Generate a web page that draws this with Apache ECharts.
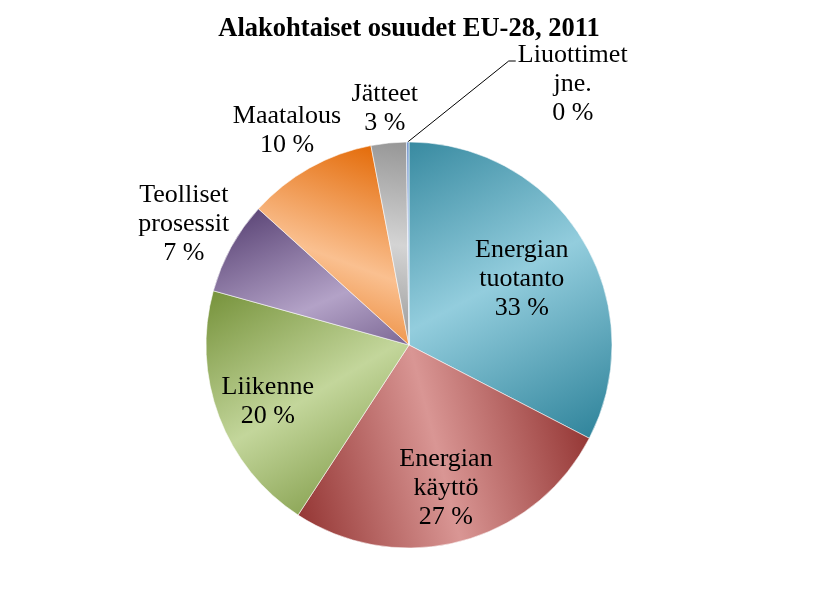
<!DOCTYPE html>
<html>
<head>
<meta charset="utf-8">
<script src="https://cdn.jsdelivr.net/npm/echarts@6/dist/echarts.min.js"></script>
<style>
  html, body { margin: 0; padding: 0; background: #fff; }
  #chart { width: 818px; height: 604px; }
</style>
</head>
<body>
<div id="chart"></div>
<script>
// sektorit ja osuudet (luettu kuvasta)
const categories = ['Energian\ntuotanto', 'Energian\nkäyttö', 'Liikenne', 'Teolliset\nprosessit', 'Maatalous', 'Jätteet', 'Liuottimet\njne.'];
const values = [32.6, 26.6, 20.1, 7.4, 10.3, 2.8, 0.2];
const darkColors = ['#31859c', '#953735', '#77933c', '#5f497a', '#e46c0a', '#969696', '#7a9dd0'];
const lightColors = ['#93cddd', '#d99694', '#c3d69b', '#b3a2c7', '#fac090', '#d4d4d4', '#b0c6e8'];
const insideLabel = [true, true, true, false, false, false, false];
const leaderIndex = 6;

const CX = 409, CY = 345, R = 203;
const FONT = 'Liberation Serif';
const FONT_SIZE = 26, LINE_H = 29;

// kulmat myötäpäivään klo 12:sta
const total = values.reduce((a, b) => a + b, 0);
const startAng = [], endAng = [];
let acc = 0;
values.forEach(v => {
  startAng.push(acc / total * 2 * Math.PI);
  acc += v;
  endAng.push(acc / total * 2 * Math.PI);
});

function dirOf(a) { return [Math.sin(a), -Math.cos(a)]; }

// Excel-tyylinen liukuväri: tumma reunoilla, vaalea keskellä
function sliceGradient(i) {
  const a1 = endAng[i], span = endAng[i] - startAng[i];
  const u = dirOf(a1);
  const l = [-Math.cos(a1), -Math.sin(a1)];
  const W = span >= Math.PI / 2 ? R : R * Math.sin(span);
  const D = Math.max(0, -R * Math.cos(span));
  const x0 = CX + R * u[0], y0 = CY + R * u[1];
  const x1 = CX + W * l[0] - D * u[0], y1 = CY + W * l[1] - D * u[1];
  return new echarts.graphic.LinearGradient(x0, y0, x1, y1, [
    { offset: 0, color: darkColors[i] },
    { offset: 0.5, color: lightColors[i] },
    { offset: 1, color: darkColors[i] }
  ], true);
}

// rivikohtaiset laatikot tekstin sijoittelua varten
const measureCtx = document.createElement('canvas').getContext('2d');
measureCtx.font = FONT_SIZE + 'px "' + FONT + '"';
function lineBoxes(text, cx, cy) {
  const lines = text.split('\n');
  const h = LINE_H * lines.length;
  return lines.map((s, j) => {
    const w = measureCtx.measureText(s).width;
    const top = cy - h / 2 + j * LINE_H;
    return [cx - w / 2, top, cx + w / 2, top + LINE_H];
  });
}
function nearestDist(b) {
  const nx = Math.max(b[0], Math.min(CX, b[2]));
  const ny = Math.max(b[1], Math.min(CY, b[3]));
  return Math.hypot(nx - CX, ny - CY);
}
function farthestDist(b) {
  const fx = Math.max(Math.abs(b[0] - CX), Math.abs(b[2] - CX));
  const fy = Math.max(Math.abs(b[1] - CY), Math.abs(b[3] - CY));
  return Math.hypot(fx, fy);
}

function placeLabel(p) {
  const i = p.dataIndex;
  const mid = (startAng[i] + endAng[i]) / 2;
  const d = dirOf(mid);
  const ex = CX + d[0] * R, ey = CY + d[1] * R;
  if (i === leaderIndex) {
    return {
      x: ex + 165, y: ey - 58, align: 'center', verticalAlign: 'middle',
      labelLinePoints: [[ex, ey], [ex + 101, ey - 81], [ex + 108, ey - 81]]
    };
  }
  let dist, bx, by;
  if (insideLabel[i]) {
    // mahdollisimman ulos, mutta sektorin sisään
    for (dist = R; dist > 0; dist -= 1) {
      bx = CX + d[0] * dist; by = CY + d[1] * dist;
      const boxes = lineBoxes(p.text, bx, by);
      if (boxes.every(b => farthestDist(b) <= R - 8)) break;
    }
  } else {
    // siirretään ulospäin kunnes rivit eivät osu ympyrään
    for (dist = R; dist < R + 300; dist += 1) {
      bx = CX + d[0] * dist; by = CY + d[1] * dist;
      const boxes = lineBoxes(p.text, bx, by);
      if (boxes.every(b => nearestDist(b) >= R + 7)) break;
    }
  }
  return { x: bx, y: by + 3, align: 'center', verticalAlign: 'middle' };
}

const pieData = categories.map((name, i) => ({
  name: name,
  value: values[i],
  itemStyle: { color: sliceGradient(i) },
  label: { position: insideLabel[i] ? 'inside' : 'outside' },
  labelLine: { show: i === leaderIndex }
}));

const myChart = echarts.init(document.getElementById('chart'), null, { renderer: 'canvas' });

const option = {
  backgroundColor: '#ffffff',
  animation: false,
  title: {
    text: 'Alakohtaiset osuudet EU-28, 2011',
    left: 'center',
    top: 11,
    textStyle: { fontFamily: FONT, fontWeight: 'bold', fontSize: 26.5, color: '#000' }
  },
  series: [{
    type: 'pie',
    center: [CX, CY],
    radius: R,
    startAngle: 90,
    clockwise: true,
    percentPrecision: 0,
    avoidLabelOverlap: false,
    data: pieData,
    itemStyle: { borderColor: 'rgba(255,255,255,0.55)', borderWidth: 1 },
    label: {
      formatter: '{b}\n{d} %',
      fontFamily: FONT,
      fontSize: FONT_SIZE,
      lineHeight: LINE_H,
      color: '#000'
    },
    labelLine: {
      length: 10,
      length2: 10,
      lineStyle: { color: '#000', width: 1 }
    },
    labelLayout: placeLabel,
    emphasis: { disabled: true }
  }]
};

myChart.setOption(option);
</script>
</body>
</html>
